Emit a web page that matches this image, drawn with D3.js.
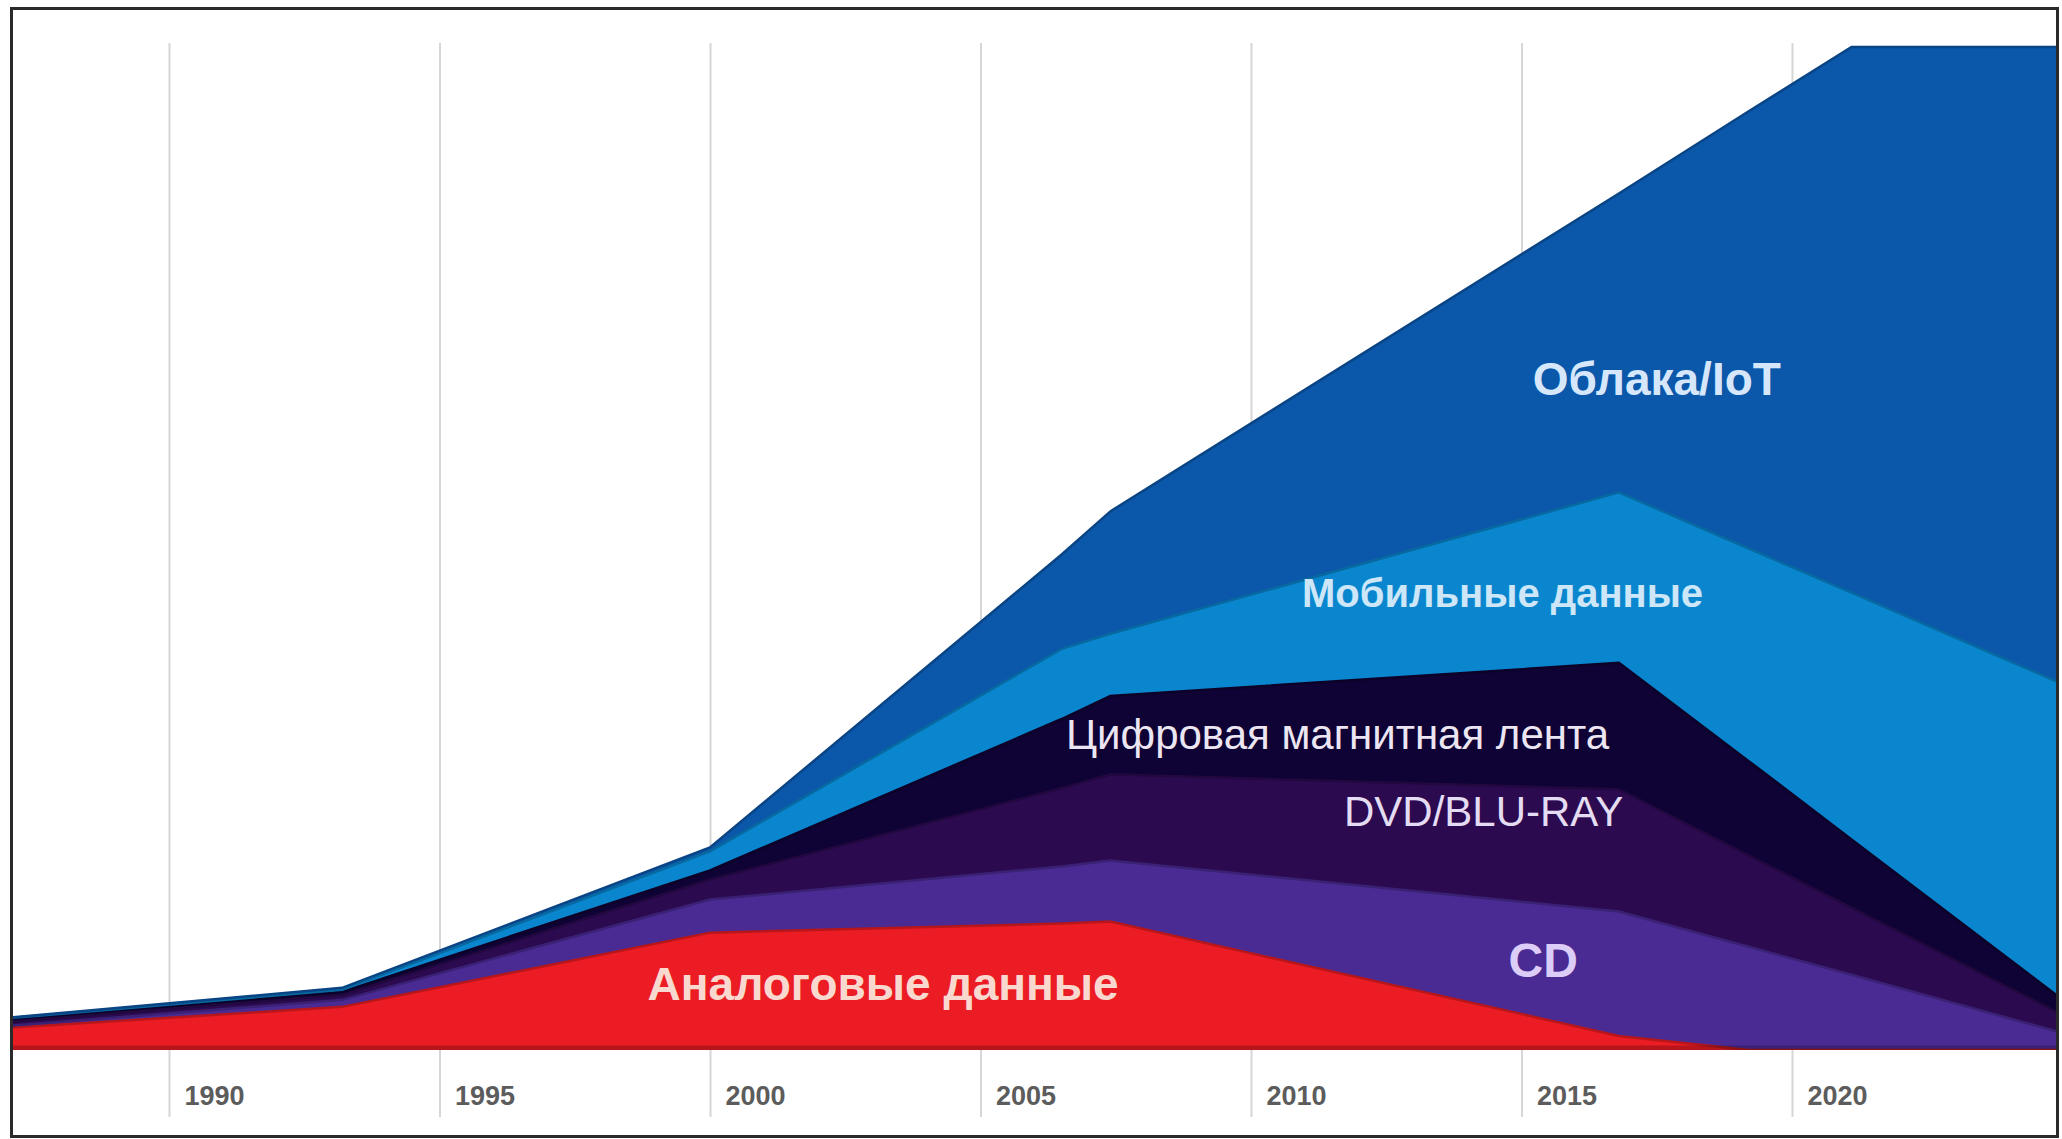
<!DOCTYPE html>
<html>
  <head>
    <meta charset="utf-8">
    <script src="https://d3js.org/d3.v7.min.js"></script>
    <title>Data by storage type</title>
    <style>
      body {
        margin: 0px;
        background: #fff;
      }
      .domain {
        display: none;
      }
      .tick line {
        stroke: #d6d6d6;
        stroke-width: 2;
      }
      .tick text {
        fill: #5c5c5c;
        font-size: 27px;
        font-weight: bold;
        font-family: 'Liberation Sans', Arial, sans-serif;
      }
      .layer-label {
        font-family: 'Liberation Sans', Arial, sans-serif;
      }
    </style>
  </head>
  <body>
    <svg width="2062" height="1139"></svg>
    <script>

      // data (stack units, full height = 100)
      const years  = [1987, 1993.2, 2000, 2006.5, 2007.4, 2016.8, 2019.2, 2021.1, 2025];
      const analog = [2.2, 4.3, 11.7, 12.6, 12.8, 1.4, 0, 0, 0];
      const cd     = [0.2, 0.7, 3.3, 5.7, 6.1, 12.4, 10.3, 7.5, 1.7];
      const dvd    = [0.4, 0.5, 2.0, 7.8, 8.6, 12.2, 9.1, 6.7, 1.8];
      const tape   = [0.3, 0.3, 0.9, 6.9, 7.8, 12.6, 9.4, 6.8, 1.5];
      const mobile = [0.05, 0.2, 1.9, 7.0, 6.2, 17.0, 21.2, 24.6, 31.5];
      const cloud  = [0.05, 0.2, 0.4, 9.4, 12.2, 29.8, 43.6, 54.4, 63.5];

      const tickYears = [1990, 1995, 2000, 2005, 2010, 2015, 2020];

      const keys = ['analog', 'cd', 'dvd', 'tape', 'mobile', 'cloud'];
      const names = {
        analog: 'Аналоговые данные',
        cd: 'CD',
        dvd: 'DVD/BLU-RAY',
        tape: 'Цифровая магнитная лента',
        mobile: 'Мобильные данные',
        cloud: 'Облака/IoT'
      };
      const colors = {
        analog: '#eb1c23',
        cd: '#4a2a93',
        dvd: '#2b0a50',
        tape: '#0f0234',
        mobile: '#0a86ce',
        cloud: '#0b57aa'
      };

      // where the layer names sit (year, stack value) and how they look
      const labels = [
        { key: 'cloud',  year: 2017.5, value: 66.9, size: 46, weight: 'bold',   fill: '#d6e7fb' },
        { key: 'mobile', year: 2014.65, value: 45.6, size: 40, weight: 'bold',  fill: '#cde6f8' },
        { key: 'tape',   year: 2011.6, value: 31.5, size: 42, weight: 'normal', fill: '#ece6f2' },
        { key: 'dvd',    year: 2014.3, value: 23.8, size: 42, weight: 'normal', fill: '#e4dcf2' },
        { key: 'cd',     year: 2015.4, value: 9.0,  size: 48, weight: 'bold',   fill: '#dccdf8' },
        { key: 'analog', year: 2003.2, value: 6.6,  size: 46, weight: 'bold',   fill: '#f9d9cf' }
      ];

      const table = years.map((year, i) => ({
        year,
        analog: analog[i],
        cd: cd[i],
        dvd: dvd[i],
        tape: tape[i],
        mobile: mobile[i],
        cloud: cloud[i]
      }));

      const svg = d3.select('svg');
      const frame = { left: 13, right: 2056, top: 10, bottom: 1135 };
      const plotBottom = 1050;
      const plotTop = 47;

      const xScale = d3.scaleLinear()
        .domain([1990, 2020])
        .range([169, 1792]);

      const yScale = d3.scaleLinear()
        .domain([0, 100])
        .range([plotBottom, plotTop]);

      svg.append('defs').append('clipPath')
          .attr('id', 'plot-clip')
        .append('rect')
          .attr('x', frame.left)
          .attr('y', frame.top)
          .attr('width', frame.right - frame.left)
          .attr('height', plotBottom - frame.top);

      // gridlines and year labels
      const gridTop = 43;
      const gridBottom = 1117;
      const xAxis = d3.axisBottom(xScale)
        .tickValues(tickYears)
        .tickFormat(d3.format('d'))
        .tickSize(-(gridBottom - gridTop));

      const xAxisG = svg.append('g')
          .attr('transform', `translate(0, ${gridBottom})`)
          .call(xAxis);
      xAxisG.selectAll('.tick text')
          .attr('x', 15)
          .attr('y', -21)
          .attr('dy', '0.35em')
          .style('text-anchor', 'start');

      const stack = d3.stack().keys(keys);
      const series = stack(table);

      const area = d3.area()
        .x(d => xScale(d.data.year))
        .y0(d => yScale(d[0]))
        .y1(d => yScale(d[1]));

      const edge = d3.line()
        .x(d => xScale(d.data.year))
        .y(d => yScale(d[1]));

      const plot = svg.append('g')
          .attr('clip-path', 'url(#plot-clip)');

      plot.selectAll('path.layer').data(series)
        .enter().append('path')
          .attr('class', 'layer')
          .attr('fill', d => colors[d.key])
          .attr('d', area);

      plot.selectAll('path.edge').data(series)
        .enter().append('path')
          .attr('class', 'edge')
          .attr('fill', 'none')
          .attr('stroke', d => d3.color(colors[d.key]).darker(0.7))
          .attr('stroke-width', 2.5)
          .attr('d', edge);

      // darker shadow along the base
      plot.append('line')
          .attr('x1', frame.left)
          .attr('x2', frame.right)
          .attr('y1', plotBottom - 2)
          .attr('y2', plotBottom - 2)
          .attr('stroke', '#000')
          .attr('stroke-opacity', 0.22)
          .attr('stroke-width', 5);

      svg.selectAll('text.layer-label').data(labels)
        .enter().append('text')
          .attr('class', 'layer-label')
          .attr('x', d => xScale(d.year))
          .attr('y', d => yScale(d.value))
          .attr('dy', '0.35em')
          .attr('fill', d => d.fill)
          .attr('font-size', d => d.size + 'px')
          .attr('font-weight', d => d.weight)
          .style('text-anchor', 'middle')
          .text(d => names[d.key]);

      // frame round the picture
      svg.append('rect')
          .attr('x', frame.left - 1.5)
          .attr('y', frame.top - 1.5)
          .attr('width', frame.right - frame.left + 3)
          .attr('height', frame.bottom - frame.top + 3)
          .attr('fill', 'none')
          .attr('stroke', '#2a2a2a')
          .attr('stroke-width', 3);
    </script>
  </body>
</html>
